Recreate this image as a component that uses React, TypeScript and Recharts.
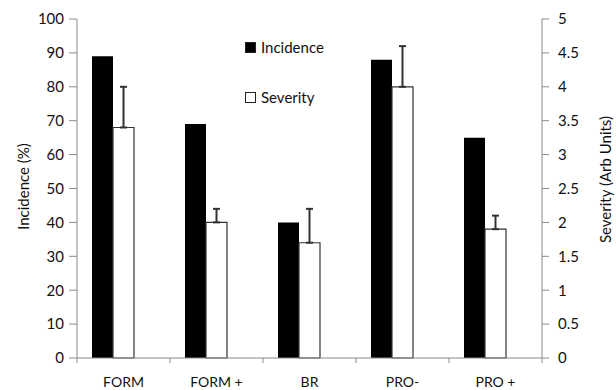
import React from 'react';
import { BarChart, Bar, XAxis, YAxis, ErrorBar, Legend } from 'recharts';

const categories = ['FORM', 'FORM +', 'BR', 'PRO-', 'PRO +'];
const incidence = [89, 69, 40, 88, 65];
const severity = [3.4, 2.0, 1.7, 4.0, 1.9];
const severityErr = [0.6, 0.2, 0.5, 0.6, 0.2];
const incidenceTicks = [0, 10, 20, 30, 40, 50, 60, 70, 80, 90, 100];
const severityTicks = [0, 0.5, 1, 1.5, 2, 2.5, 3, 3.5, 4, 4.5, 5];

const data = categories.map((name, i) => ({
  name,
  incidence: incidence[i],
  severity: severity[i],
  err: [0, severityErr[i]],
}));

const AXIS = '#8a8a8a';
const TEXT = '#111';

const CategoryTick = (props: any) => {
  const { x, y, payload, index, visibleTicksCount } = props;
  const half = payload.offset || 0;
  return (
    <g>
      <line x1={x - half} x2={x - half} y1={y} y2={y + 5} stroke={AXIS} />
      {index === visibleTicksCount - 1 && <line x1={x + half} x2={x + half} y1={y} y2={y + 5} stroke={AXIS} />}
      <text x={x} y={y + 29} textAnchor="middle" fill={TEXT} fontSize={14}>{payload.value}</text>
    </g>
  );
};

// spacer bar has legendType none, keep it out of the legend
const LegendBox = ({ payload }: any) => (
  <div style={{ fontSize: 15, color: TEXT }}>
    {(payload || []).filter((p: any) => p.type !== 'none' && p.value !== 'spacer').map((p: any, i: number) => (
      <div key={p.value} style={{ display: 'flex', alignItems: 'center', height: 20, marginBottom: i === 0 ? 30 : 0 }}>
        <span style={{ width: 9, height: 9, background: p.color, border: '1px solid #222', marginRight: 5, display: 'inline-block' }} />
        <span>{p.value}</span>
      </div>
    ))}
  </div>
);

export default function App() {
  return (
    <div style={{ position: 'absolute', left: 0, top: 0, fontFamily: 'Lato, sans-serif', background: '#fff' }}>
      <BarChart width={616} height={390} data={data} margin={{ top: 19, right: 0, bottom: 0, left: 17 }} barGap={0} barSize={21}>
        <XAxis dataKey="name" height={32} stroke={AXIS} tickLine={false} tickSize={0} tickMargin={0} interval={0} tick={<CategoryTick />} />
        <YAxis yAxisId="left" width={60} domain={[0, 100]} ticks={incidenceTicks} stroke={AXIS} tickSize={8} tickMargin={5}
          tick={{ fill: TEXT, fontSize: 15 }}
          label={{ value: 'Incidence (%)', angle: -90, position: 'center', dx: -23, dy: -2, fill: TEXT, fontSize: 15 }} />
        <YAxis yAxisId="right" orientation="right" width={74} domain={[0, 5]} ticks={severityTicks} stroke={AXIS} tickSize={7} tickMargin={9}
          tick={{ fill: TEXT, fontSize: 15, textAnchor: 'start' }}
          label={{ value: 'Severity (Arb Units)', angle: -90, position: 'center', dx: 27, dy: -9, fill: TEXT, fontSize: 15 }} />
        <Legend layout="vertical" align="center" verticalAlign="middle" content={<LegendBox />}
          wrapperStyle={{ position: 'absolute', left: 245, top: 37, width: 120 }} />
        <Bar yAxisId="left" dataKey="incidence" name="Incidence" fill="#000" isAnimationActive={false} />
        <Bar yAxisId="right" dataKey="severity" name="Severity" fill="#fff" stroke="#333" strokeWidth={1.2} isAnimationActive={false}>
          <ErrorBar dataKey="err" direction="y" width={3.5} stroke="#333" strokeWidth={2} />
        </Bar>
        <Bar yAxisId="left" dataKey="spacer" name="spacer" fill="transparent" legendType="none" isAnimationActive={false} />
      </BarChart>
    </div>
  );
}
